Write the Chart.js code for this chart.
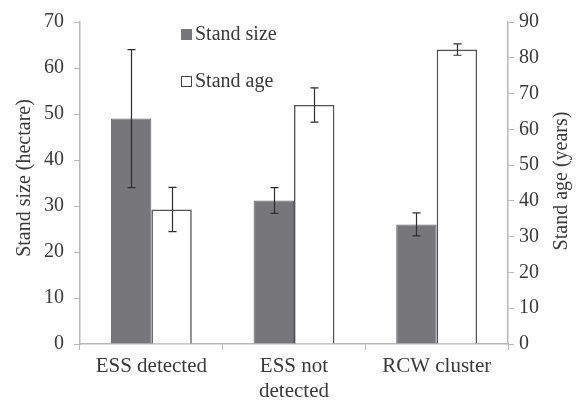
<!DOCTYPE html>
<html>
<head>
<meta charset="utf-8">
<script src="https://cdn.jsdelivr.net/npm/chart.js@4.4.0/dist/chart.umd.min.js"></script>
<style>
  html, body { margin: 0; padding: 0; background: #fff; }
</style>
</head>
<body>
<canvas id="chart" width="578" height="403"></canvas>
<script>
/* ---------- DATA ---------- */

const categories = [['ESS detected'], ['ESS not', 'detected'], ['RCW cluster']];
const standSize = [49, 31.2, 26];
const standSizeErr = [15, 2.8, 2.5];
const standAge = [37.6, 66.8, 82.3];
const standAgeErr = [6.2, 4.8, 1.6];

const sizeAxisMax = 70, sizeAxisStep = 10;
const ageAxisMax = 90, ageAxisStep = 10;

const leftTitle = 'Stand size (hectare)';
const rightTitle = 'Stand age (years)';

/* ---------- STYLE ---------- */

const FONT = "'Liberation Serif', 'Times New Roman', serif";
const TEXT = '#3a3a3a';
const AXIS = '#b8b8b8';
const GRAY = '#77777b';

/* ---------- PLUGINS ---------- */

const errorBars = {
  id: 'errorBars',
  afterDatasetsDraw(chart) {
    const ctx = chart.ctx;
    chart.data.datasets.forEach((ds, di) => {
      const meta = chart.getDatasetMeta(di);
      const yScale = chart.scales[ds.yAxisID];
      meta.data.forEach((bar, i) => {
        const v = ds.data[i], e = ds.errors[i];
        const top = yScale.getPixelForValue(v + e);
        const bot = yScale.getPixelForValue(v - e);
        const x = Math.round(bar.x) + 0.5;
        ctx.save();
        ctx.strokeStyle = '#2e2e2e';
        ctx.lineWidth = 1.2;
        ctx.beginPath();
        ctx.moveTo(x, top); ctx.lineTo(x, bot);
        ctx.moveTo(x - 4, top); ctx.lineTo(x + 4, top);
        ctx.moveTo(x - 4, bot); ctx.lineTo(x + 4, bot);
        ctx.stroke();
        ctx.restore();
      });
    });
  }
};

const extras = {
  id: 'extras',
  afterDraw(chart) {
    const ctx = chart.ctx;
    ctx.save();
    // legend
    ctx.font = `20px ${FONT}`;
    ctx.fillStyle = TEXT;
    ctx.textBaseline = 'middle';
    ctx.textAlign = 'left';
    ctx.fillStyle = GRAY;
    ctx.fillRect(181, 29, 11, 11);
    ctx.fillStyle = TEXT;
    ctx.fillText(chart.data.datasets[0].label, 195, 35);
    ctx.strokeStyle = '#444';
    ctx.lineWidth = 1;
    ctx.strokeRect(181.5, 76.5, 10, 10);
    ctx.fillText(chart.data.datasets[1].label, 195, 82);

    // axis titles, both reading upwards
    ctx.textAlign = 'center';
    ctx.font = `20px ${FONT}`;
    ctx.translate(25, 178);
    ctx.rotate(-Math.PI / 2);
    ctx.fillText(leftTitle, 0, 0);
    ctx.setTransform(1, 0, 0, 1, 0, 0);
    ctx.translate(562, 181);
    ctx.rotate(-Math.PI / 2);
    ctx.fillText(rightTitle, 0, 0);
    ctx.restore();
  }
};

/* ---------- CHART ---------- */

const tickFont = { family: FONT, size: 20 };

new Chart(document.getElementById('chart'), {
  type: 'bar',
  data: {
    labels: categories,
    datasets: [
      {
        label: 'Stand size',
        data: standSize,
        errors: standSizeErr,
        yAxisID: 'ySize',
        backgroundColor: GRAY,
        borderColor: '#66666a',
        borderWidth: 1
      },
      {
        label: 'Stand age',
        data: standAge,
        errors: standAgeErr,
        yAxisID: 'yAge',
        backgroundColor: '#ffffff',
        borderColor: '#555555',
        borderWidth: 1.6
      }
    ]
  },
  options: {
    responsive: false,
    animation: false,
    layout: { padding: { top: 15, left: 0, right: 0, bottom: 0 } },
    categoryPercentage: 0.567,
    barPercentage: 1.0,
    plugins: {
      legend: { display: false },
      tooltip: { enabled: false }
    },
    scales: {
      x: {
        grid: {
          offset: true,
          drawOnChartArea: false,
          drawTicks: true,
          tickLength: 6,
          color: AXIS
        },
        border: { color: AXIS, width: 1.5 },
        ticks: { font: { family: FONT, size: 21 }, color: TEXT, padding: 4, maxRotation: 0 },
        afterFit(scale) { scale.height = 59; }
      },
      ySize: {
        position: 'left',
        min: 0,
        max: sizeAxisMax,
        grid: { drawOnChartArea: false, tickLength: 6, color: AXIS },
        border: { color: AXIS, width: 1.5 },
        ticks: { stepSize: sizeAxisStep, font: tickFont, color: TEXT, padding: 10 },
        afterFit(scale) { scale.width = 80; }
      },
      yAge: {
        position: 'right',
        min: 0,
        max: ageAxisMax,
        grid: { drawOnChartArea: false, tickLength: 6, color: AXIS },
        border: { color: AXIS, width: 1.5 },
        ticks: { stepSize: ageAxisStep, font: tickFont, color: TEXT, padding: 5 },
        afterFit(scale) { scale.width = 70; }
      }
    }
  },
  plugins: [errorBars, extras]
});
</script>
</body>
</html>
